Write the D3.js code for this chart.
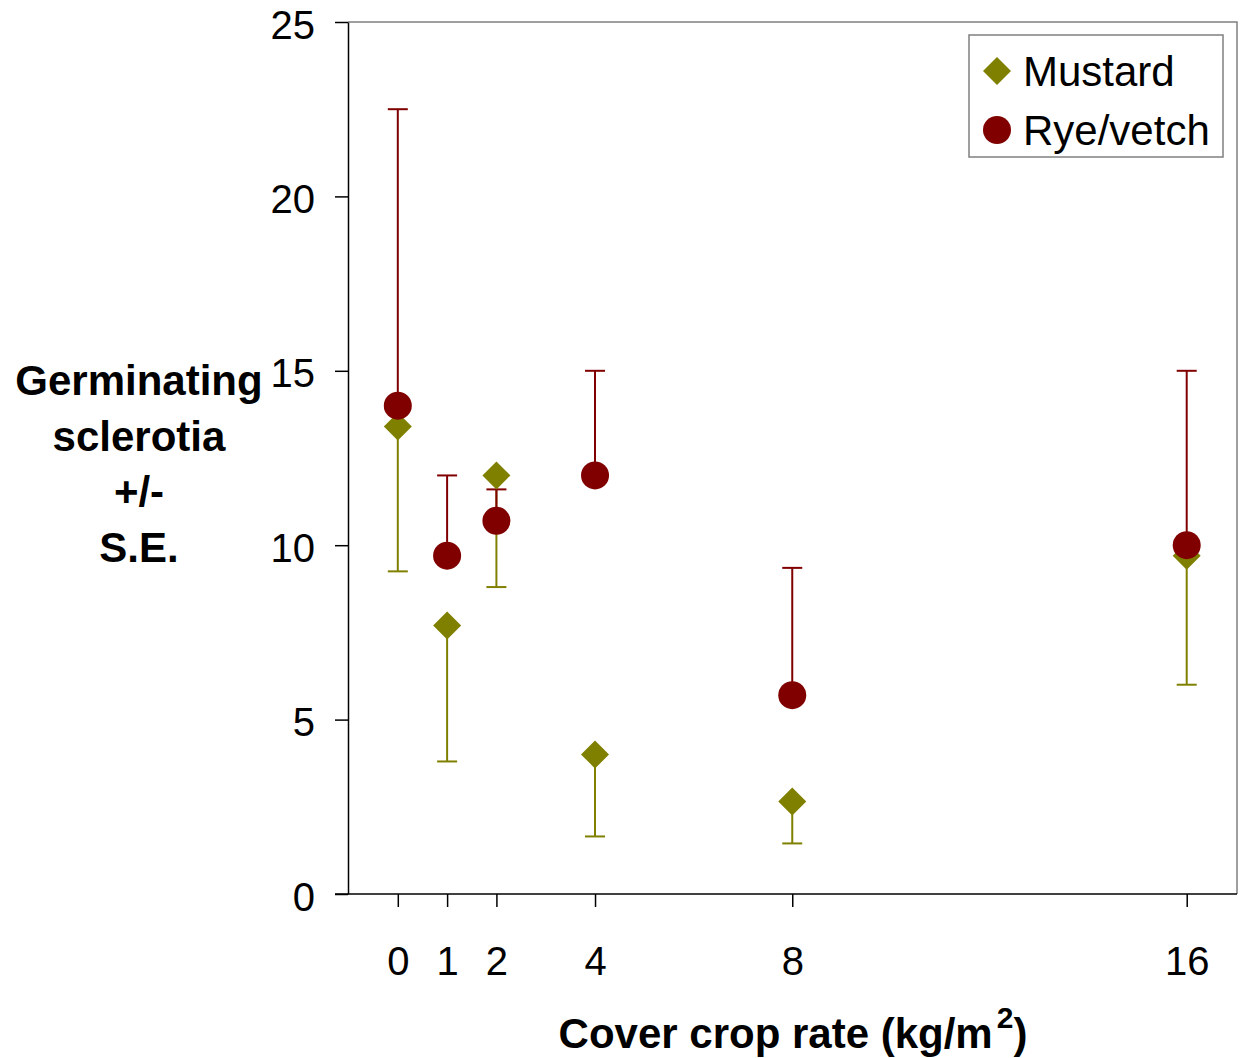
<!DOCTYPE html>
<html>
<head>
<meta charset="utf-8">
<script src="https://cdn.jsdelivr.net/npm/d3@7"></script>
<style>
  body { margin: 0; background: #fff; }
  text { font-family: "Liberation Sans", Arial, sans-serif; }
</style>
</head>
<body>
<div id="chart"></div>
<script>
// data
var rates = [0, 1, 2, 4, 8, 16];
var mustard = [13.4, 7.7, 12.0, 4.0, 2.65, 9.7];
var mustardLow = [9.25, 3.8, 8.8, 1.65, 1.45, 6.0];
var rye = [14.0, 9.7, 10.7, 12.0, 5.7, 10.0];
var ryeHigh = [22.5, 12.0, 11.6, 15.0, 9.35, 15.0];
var yTicks = [0, 5, 10, 15, 20, 25];

(function() {
  var width = 1241, height = 1058;
  var pLeft = 348, pRight = 1237, pTop = 22, pBottom = 894;

  var svg = d3.select("#chart").append("svg")
    .attr("width", width)
    .attr("height", height);

  var x = d3.scaleLinear().domain([-1.01, 17.02]).range([pLeft, pRight]);
  var y = d3.scaleLinear().domain([0, 25]).range([pBottom, pTop]);

  // plot frame: grey top/right
  svg.append("path")
    .attr("d", "M" + pLeft + "," + pTop + "H" + pRight + "V" + pBottom)
    .attr("fill", "none")
    .attr("stroke", "#808080")
    .attr("stroke-width", 1.5);

  // y axis
  var yAxis = svg.append("g")
    .attr("transform", "translate(" + pLeft + ",0)")
    .call(d3.axisLeft(y).tickValues(yTicks).tickSize(13).tickSizeOuter(0).tickPadding(20));
  yAxis.select(".domain").attr("stroke", "#000").attr("stroke-width", 1.5);
  yAxis.selectAll(".tick line").attr("stroke", "#000").attr("stroke-width", 1.5);
  yAxis.selectAll(".tick text")
    .attr("font-size", 40)
    .attr("fill", "#000")
    .attr("font-family", "Liberation Sans, Arial, sans-serif")
    .attr("dy", "0.4em");

  // x axis
  var xAxis = svg.append("g")
    .attr("transform", "translate(0," + pBottom + ")")
    .call(d3.axisBottom(x).tickValues(rates).tickSize(13).tickPadding(40).tickSizeOuter(0));
  xAxis.select(".domain").attr("stroke", "#000").attr("stroke-width", 1.5)
    .attr("d", "M" + (pLeft - 13) + ",0H" + pRight);
  xAxis.selectAll(".tick line").attr("stroke", "#000").attr("stroke-width", 1.5);
  xAxis.selectAll(".tick text")
    .attr("font-size", 40)
    .attr("fill", "#000")
    .attr("font-family", "Liberation Sans, Arial, sans-serif");

  var olive = "#808000", maroon = "#800000";
  var cap = 10;

  // mustard error bars (downwards)
  var mg = svg.append("g");
  rates.forEach(function(r, i) {
    var cx = x(r);
    mg.append("line").attr("x1", cx).attr("x2", cx)
      .attr("y1", y(mustard[i])).attr("y2", y(mustardLow[i]))
      .attr("stroke", olive).attr("stroke-width", 2);
    mg.append("line").attr("x1", cx - cap).attr("x2", cx + cap)
      .attr("y1", y(mustardLow[i])).attr("y2", y(mustardLow[i]))
      .attr("stroke", olive).attr("stroke-width", 2);
  });

  // rye/vetch error bars (upwards)
  var rg = svg.append("g");
  rates.forEach(function(r, i) {
    var cx = x(r);
    rg.append("line").attr("x1", cx).attr("x2", cx)
      .attr("y1", y(rye[i])).attr("y2", y(ryeHigh[i]))
      .attr("stroke", maroon).attr("stroke-width", 2);
    rg.append("line").attr("x1", cx - cap).attr("x2", cx + cap)
      .attr("y1", y(ryeHigh[i])).attr("y2", y(ryeHigh[i]))
      .attr("stroke", maroon).attr("stroke-width", 2);
  });

  // markers
  var diamond = "M0,-14L14,0L0,14L-14,0Z";
  svg.append("g").selectAll("path")
    .data(rates)
    .join("path")
    .attr("d", diamond)
    .attr("transform", function(d, i) { return "translate(" + x(d) + "," + y(mustard[i]) + ")"; })
    .attr("fill", olive);

  svg.append("g").selectAll("circle")
    .data(rates)
    .join("circle")
    .attr("cx", function(d) { return x(d); })
    .attr("cy", function(d, i) { return y(rye[i]); })
    .attr("r", 14)
    .attr("fill", maroon);

  // legend
  var lg = svg.append("g");
  lg.append("rect")
    .attr("x", 969).attr("y", 35).attr("width", 254).attr("height", 122)
    .attr("fill", "#fff").attr("stroke", "#808080").attr("stroke-width", 1.5);
  lg.append("path").attr("d", diamond)
    .attr("transform", "translate(997,71)")
    .attr("fill", olive);
  lg.append("circle").attr("cx", 997).attr("cy", 130).attr("r", 14).attr("fill", maroon);
  lg.append("text").attr("x", 1023).attr("y", 86).attr("font-size", 42).text("Mustard");
  lg.append("text").attr("x", 1023).attr("y", 145).attr("font-size", 42).text("Rye/vetch");

  // y title
  var yTitle = ["Germinating", "sclerotia", "+/-", "S.E."];
  svg.append("g").selectAll("text")
    .data(yTitle)
    .join("text")
    .attr("x", 139)
    .attr("y", function(d, i) { return 395 + i * 55.5; })
    .attr("text-anchor", "middle")
    .attr("font-size", 42)
    .attr("font-weight", "bold")
    .text(function(d) { return d; });

  // x title
  var xt = svg.append("text")
    .attr("x", 793)
    .attr("y", 1048)
    .attr("text-anchor", "middle")
    .attr("font-size", 42)
    .attr("font-weight", "bold");
  xt.append("tspan").text("Cover crop rate (kg/m");
  xt.append("tspan").attr("font-size", 30).attr("dy", -20).attr("dx", 4).text("2");
  xt.append("tspan").attr("dy", 20).text(")");
})();
</script>
</body>
</html>
